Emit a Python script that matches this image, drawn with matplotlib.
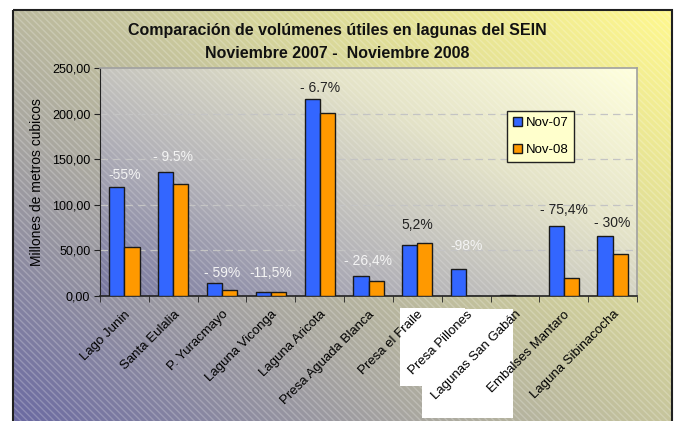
import numpy as np
import matplotlib
matplotlib.use('Agg')
import matplotlib.pyplot as plt
from matplotlib.colors import LinearSegmentedColormap
from matplotlib.patches import Rectangle

# Data (millones de m3)
lagunas = ['Lago Junin', 'Santa Eulalia', 'P. Yuracmayo', 'Laguna Viconga',
           'Laguna Aricota', 'Presa Aguada Blanca', 'Presa el Fraile',
           'Presa Pillones', 'Lagunas San Gabán', 'Embalses Mantaro',
           'Laguna Sibinacocha']
nov07 = [119.7, 136.5, 13.9, 4.7, 215.5, 22.3, 55.5, 29.5, 1.5, 77.0, 65.3]
nov08 = [53.6, 123.0, 6.2, 4.7, 201.0, 16.4, 58.0, 0.0, 0.0, 19.4, 46.3]
variacion = ['-55%', '- 9.5%', '- 59%', '-11,5%', '- 6.7%', '- 26,4%',
             '5,2%', '-98%', '', '- 75,4%', '- 30%']
label_dark = [False, False, False, False, True, False, True, False, False, True, True]
label_y = [133, 152, 25, 25, 228, 38, 78, 55, 0, 94, 80]

plt.rcParams['font.family'] = ['Liberation Sans', 'DejaVu Sans']

W, H = 675, 421
fig = plt.figure(figsize=(W / 100, H / 100), dpi=100)
fig.patch.set_facecolor('white')

# background of the chart area (diagonal gradient + fine hatch)
bg = fig.add_axes([0, 0, 1, 1], zorder=-10)
bg.set_xlim(0, W)
bg.set_ylim(H, 0)
bg.axis('off')
xx, yy = np.meshgrid(np.linspace(0, 1, 300), np.linspace(0, 1, 200))
grad = np.clip((xx * 0.65 + (1 - yy) * 0.55) / 1.2, 0, 1)
cm_out = LinearSegmentedColormap.from_list('out', ['#6b6aa2', '#a9a7a0', '#d8d79a', '#fff88e'])
bg.imshow(grad, cmap=cm_out, extent=(13, 672, 421, 10), aspect='auto', origin='upper')
bg.add_patch(Rectangle((13, 10), 659, 420, fill=False, hatch='\\\\\\\\\\',
                       edgecolor=(1, 1, 1, 0.22), linewidth=0))
bg.add_patch(Rectangle((13, 10), 659, 420, fill=False, edgecolor='#202020', linewidth=1.5))
# white blotches over the labels
bg.add_patch(Rectangle((400, 308), 65, 78, facecolor='white', edgecolor='none'))
bg.add_patch(Rectangle((422, 309), 91, 109, facecolor='white', edgecolor='none'))

fig.text(0.5, 1 - 30 / H, 'Comparación de volúmenes útiles en lagunas del SEIN',
         ha='center', va='center', fontsize=11.5, fontweight='bold',
         family=['Liberation Sans Narrow', 'Liberation Sans'], color='#111111')
fig.text(0.5, 1 - 53 / H, 'Noviembre 2007 -  Noviembre 2008',
         ha='center', va='center', fontsize=11.5, fontweight='bold',
         family=['Liberation Sans Narrow', 'Liberation Sans'], color='#111111')

ax = fig.add_axes([100 / W, 1 - 296 / H, 537 / W, 228 / H])
ax.set_facecolor('none')

# plot area gradient
cm_in = LinearSegmentedColormap.from_list('in', ['#77779f', '#b4b3b8', '#e4e3c8', '#ffffdd'])
g2 = np.clip((xx * 0.75 + (1 - yy) * 0.6) / 1.35, 0, 1)
ax.imshow(g2, cmap=cm_in, extent=(0, 1, 0, 1), transform=ax.transAxes,
          aspect='auto', origin='upper', zorder=0)
ax.add_patch(Rectangle((0, 0), 1, 1, transform=ax.transAxes, fill=False,
                       hatch='\\\\\\\\\\', edgecolor=(1, 1, 1, 0.18), linewidth=0, zorder=0.5))

x = np.arange(len(lagunas))
width = 0.31
ax.bar(x - width / 2, nov07, width, color='#3366ff', edgecolor='#1a1a1a',
       linewidth=1, label='Nov-07', zorder=3)
ax.bar(x + width / 2, nov08, width, color='#ff9900', edgecolor='#1a1a1a',
       linewidth=1, label='Nov-08', zorder=3)

for i, txt in enumerate(variacion):
    if txt:
        ax.text(x[i], label_y[i], txt, ha='center', va='center', fontsize=10,
                color='#222222' if label_dark[i] else '#f4f4f4', zorder=4)

ax.set_xlim(-0.5, len(lagunas) - 0.5)
ax.set_ylim(0, 250)
ax.set_yticks([0, 50, 100, 150, 200, 250])
ax.set_yticklabels(['0,00', '50,00', '100,00', '150,00', '200,00', '250,00'], fontsize=9)
for v in [50, 100, 150, 200]:
    ax.axhline(v, color='#c4c4c4', linestyle=(0, (6, 4)), linewidth=0.9, zorder=1)

ax.set_xticks(x)
ax.set_xticklabels(lagunas, rotation=45, ha='right', rotation_mode='anchor', fontsize=9.5)
ax.set_xticks(np.arange(-0.5, len(lagunas)), minor=True)
ax.tick_params(axis='x', which='major', length=0, pad=9)
ax.tick_params(axis='x', which='minor', length=4, direction='out', color='#222222')
ax.tick_params(axis='y', length=4, color='#222222', pad=3)

for side in ['top', 'right']:
    ax.spines[side].set_color('#a0a0a0')
    ax.spines[side].set_linewidth(1.2)
ax.spines['left'].set_color('#222222')
ax.spines['bottom'].set_color('#222222')
ax.spines['bottom'].set_linewidth(1.2)

ax.set_ylabel('Millones de metros cubicos', fontsize=10, labelpad=6)

leg = ax.legend(loc='upper left', bbox_to_anchor=(0.745, 0.84), fontsize=9.5,
                fancybox=False, facecolor='#ffffcc', edgecolor='#222222',
                framealpha=1, handlelength=0.7, handleheight=0.7,
                handletextpad=0.3, labelspacing=1.1, borderpad=0.45)
leg.get_frame().set_linewidth(1)

fig.savefig('out.png', dpi=100)
